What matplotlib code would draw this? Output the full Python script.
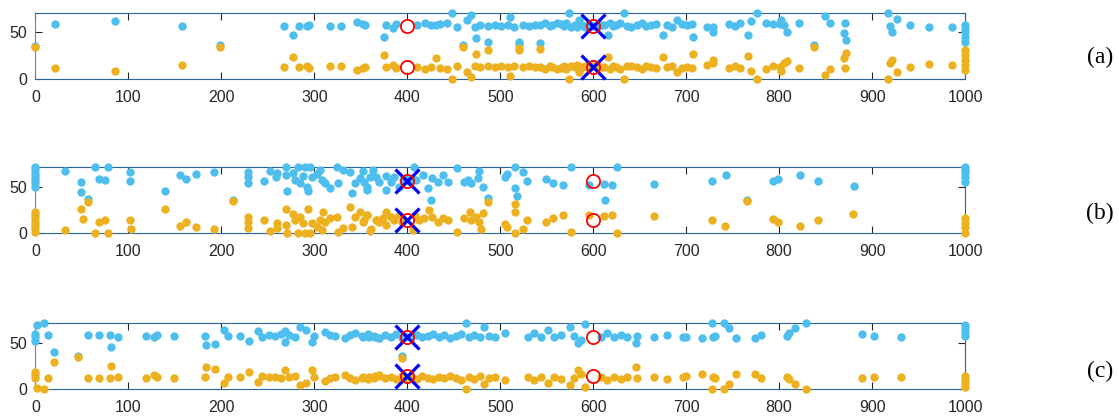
import numpy as np
import matplotlib.pyplot as plt

# ---- data ----
# panel (a): blue and orange share x
a_x = [0, 21, 85.5, 158, 199, 267, 277, 283.5, 291.7, 294.6, 316.8, 329, 346, 354,
       352, 375, 377, 385, 387.4, 410, 419, 426, 431, 435, 443, 448, 453, 460, 464, 469,
       472.5, 474, 478, 487, 487, 494, 501, 508, 511, 515, 520, 520, 524, 531, 537,
       542.5, 542.5, 548, 553, 556, 561, 565, 569, 571, 574, 576, 580, 583, 585, 588,
       591, 595, 600, 604, 608, 612, 616, 618, 621, 625, 629, 633, 636, 641, 647, 652,
       657, 662, 668, 675, 679, 685, 690, 695, 701, 706, 707, 722, 729, 729, 746, 753,
       758, 767, 770, 776, 786, 793.5, 801, 802.5, 805, 808.6, 821.5, 838, 849, 854.5,
       870.6, 870, 872.4, 917, 919.5, 921.7, 927, 941, 961, 986,
       1000, 1000, 1000, 1000, 1000]
a_blue = [35.7, 59.2, 62, 56.4, 36, 57, 47, 57, 56.4, 57.8, 56.4, 57, 60.7, 57.8,
          58.9, 45, 57.9, 55, 59, 58, 60, 58, 57.5, 59, 60, 70.4, 56, 36, 63, 68.6,
          56, 43.6, 57.9, 40, 56.8, 57.9, 56.8, 58, 66.8, 56, 40, 37, 57.9, 56.8, 58,
          38, 57.9, 59.6, 57, 57.9, 60, 58.5, 56.5, 59.6, 70.4, 56, 57.9, 55.5, 63, 58,
          56, 59, 57, 55.5, 58, 57.9, 47, 59.6, 56.5, 58, 59.6, 71, 57, 56, 57.9, 59.6,
          56.5, 57.9, 58.5, 47, 57.9, 56, 63, 59, 57.5, 59, 44.6, 56, 56, 50.7, 59, 57,
          60, 47, 62.5, 71, 60, 59, 59, 63, 58, 50.7, 60, 36, 67.5, 60.4,
          59.6, 49.6, 41.8, 71, 56.8, 50, 64.3, 57.9, 56, 56,
          58, 54, 50.7, 45, 40]
a_orange = [34.6, 11.4, 8.9, 14.6, 34.3, 13.2, 23.9, 13.2, 13.9, 12.1, 14.2, 13.5, 9.6, 12.5,
            11.5, 25.4, 12.5, 15.4, 11.4, 12.4, 10.4, 12.4, 22, 11.4, 10.4, 0, 14.4, 34.4, 8, 1.8,
            14.4, 27, 12.5, 31, 13.6, 12.5, 13.6, 12.5, 3.6, 14.4, 31, 33.4, 12.5, 13.6, 12.4,
            32.4, 12.5, 10.8, 13.4, 12.5, 10.4, 12, 14, 10.8, 0, 14.4, 12.5, 15, 7.4, 12.4,
            14.4, 11.4, 13.4, 15, 12.4, 12.5, 23.4, 10.8, 14, 12.4, 10.8, 0, 13.4, 14.4, 12.5, 10.8,
            14, 12.5, 12, 23.4, 12.5, 14.4, 7.4, 11.4, 13, 11.4, 26.8, 15, 17, 20, 11.4, 14.3,
            11.4, 24.6, 8.6, 0, 10.7, 14.3, 13.2, 8.6, 16.8, 19.6, 11.4, 34.6, 4.3, 10.4,
            11.4, 22, 28.2, 0, 16.8, 20, 7.9, 13.2, 15.7, 15,
            9.6, 15, 20, 25.7, 31]

# panel (b)
b_xblue = [0, 0, 0, 0, 0, 0, 0, 31.7, 48.6, 48.6, 56.8, 64, 68.7, 74.8, 77.6, 101.7, 101.7,
           139.3, 155.5, 161.6, 172.7, 192.4, 212.8, 229, 229, 228.3, 246, 252.3, 259.5,
           258.8, 269.5, 269.5, 271, 277.4, 279, 282.7, 284.5, 288, 290, 291.7, 293.5, 295.3,
           297, 302.5, 306, 307.8, 311.4, 316.8, 324, 325.8, 331.2, 338.4, 340, 343.7, 349,
           352.7, 356.3, 360, 353.6, 357, 362.6, 366, 370, 377, 377, 382, 386, 391, 395, 398,
           403, 405, 407.5, 409, 416.5, 422, 425, 427, 432.7, 438, 444, 454, 461.5, 465,
           468.7, 477.6, 476, 481, 486.6, 504.6, 507, 516, 516, 518, 524.4, 529, 549.6, 557,
           567.6, 576.6, 596, 611.9, 612.6, 620.5, 626, 665.3, 728, 742.4, 765, 793.5, 799.3,
           822.3, 842, 880.2, 1000, 1000, 1000, 1000, 1000]
b_blue = [72.5, 69, 65, 61.6, 58, 54.3, 50.7, 68, 56, 45, 37, 71.7, 58.7, 58, 71.7, 67, 57.2,
          46.4, 63.4, 59, 64, 67, 36.2, 67, 61.6, 54.3, 57.2, 68, 66,
          61, 71.7, 63.4, 46, 65.2, 58, 71.7, 54.3, 62.3, 71.7, 50.7, 46.4, 71.7,
          61.6, 64.5, 69, 58, 54.3, 49, 71.7, 54.3, 69, 67, 44.2, 54.3, 59.8,
          68, 47, 61.6, 56, 50.7, 68.8, 60.9, 56, 62.3, 47, 56, 61.6, 50.7, 58, 60,
          56, 59, 71.7, 58, 63.4, 49, 36, 59.8, 56, 63.4, 56, 70.7, 56, 58,
          54.3, 68, 59.8, 50.7, 38, 61.6, 64.5, 71.7, 49, 40.6, 67, 57.2, 58.7, 54.3,
          52.5, 71.7, 52.5, 53.6, 36.2, 52.5, 71.7, 53.3, 57.2, 63.4, 36.2, 56.9, 59,
          63.4, 57.2, 51.4, 72.5, 69, 65.2, 61.6, 56]
b_xorange = [0, 0, 0, 0, 0, 0, 0, 31.7, 48.6, 51.5, 56.8, 64, 68.7, 74.8, 77.6, 101.7, 102.7,
             139.3, 155.5, 161.6, 172.7, 192.4, 212.8, 229, 229, 229, 246, 252.3, 259.5, 260,
             269.5, 269.5, 271, 277.4, 279, 282.7, 284.5, 288, 290, 293.5, 295.3, 297, 302.5,
             306, 307.8, 309.6, 311.4, 316.8, 324, 325.8, 331.2, 338.4, 340, 343.7, 349, 352.7,
             356.3, 360, 367, 353.6, 357, 361, 366, 370, 373.6, 377, 377, 382, 386, 391, 394.5,
             406, 408, 413, 418.5, 423.7, 427, 432.7, 438, 444, 454, 461.5, 467, 468.7, 474,
             477.6, 479.5, 481, 486.6, 504.6, 507, 516, 516, 516, 524.4, 529, 549.6, 557, 567.6,
             576.6, 596, 611.9, 620.5, 626, 665.3, 728, 742, 765, 793.5, 799, 822, 842, 880,
             1000, 1000, 1000, 1000]
b_orange = [23.5, 19.9, 16.3, 12.7, 9, 5.4, 1.8, 3.6, 26.4, 15.6, 33.7, 0.7, 12.7, 14.5, 0.7, 14.5, 4.7,
            26, 8, 12.7, 7.2, 4.7, 35, 18, 12.7, 5.4, 14.5, 2.5, 11.6, 5.4,
            26, 9, 0.7, 21, 14.5, 0.7, 18, 11.6, 0.7, 26, 0.7, 10.9, 7.2,
            14.5, 3.6, 23.5, 12.7, 16.3, 18, 1.8, 5.4, 29, 7.2, 18, 23.5, 12.7,
            20, 3, 14.5, 14.5, 20, 4.3, 14.5, 12.7, 16.3, 23.5, 9, 18, 14.5, 20, 12.7,
            3.6, 20, 14.5, 16.3, 25.4, 18, 12.7, 16.3, 14.5, 1.8, 16.3, 23.5, 14.5, 18,
            12.7, 4.3, 21.7, 34.4, 10, 7.2, 31.9, 23.5, 0.7, 4.3, 14.5, 12.7, 16.3, 20,
            1.8, 20, 18.8, 20, 0.7, 19.2, 14.5, 8.3, 35.5, 15.2, 12.7, 8.3, 14.5, 20.6,
            16.3, 10.9, 6.5, 0.7]

# panel (c)
c_xblue = [0, 0, 0, 1.3, 9.5, 13.8, 20.3, 46, 56, 68.4, 80.3, 81, 89, 118.6, 128, 130.5, 148.5,
           182, 183, 192.7, 202.3, 207, 220.3, 229.3, 239.3, 243.8, 250.8, 258, 264.5, 268, 268,
           272.3, 279.5, 285, 291, 297, 299.3, 311, 317.2, 322.6, 333.4, 338.8, 344.2, 351.3,
           358.6, 365.7, 369.3, 352, 358, 364, 370, 376, 382, 388, 394, 394, 398, 404, 410,
           416, 422, 428, 434, 440, 446, 452, 458, 463.5, 466, 472, 478, 483, 488, 494,
           504.6, 529.6, 536.7, 543.9, 551, 558, 565, 575, 579.6, 584, 586.7, 591, 608, 615,
           622.4, 629.5, 636.7, 645.6, 647.4, 665, 679.5, 697, 699.6, 716.7, 728, 729, 731.5,
           740.8, 746, 754, 774, 780.5, 808, 810.6, 817, 829, 889, 902, 931,
           1000, 1000, 1000, 1000]
c_blue = [60.2, 56.6, 53, 70, 72, 59, 40.9, 36, 59, 59, 59, 46.4, 57.3, 58, 56.6, 59, 58,
          58, 48, 49.3, 64.6, 58, 58, 52.6, 63.9, 57.3, 59.1, 58, 60.2, 63.9, 51,
          59.1, 57.3, 67.5, 64.6, 51.8, 58, 62.8, 59.1, 58, 55.5, 59.1, 61.7, 58,
          57.3, 56.6, 55.5, 57, 60, 58, 56, 59, 57.5, 60, 36, 56, 58, 57, 59.5,
          56.5, 58, 60, 57, 59, 56, 58.5, 60.5, 72, 57, 59, 56.5, 67.5, 58, 57,
          61, 57.3, 61, 57.3, 64.6, 57.3, 59.1, 68, 58, 50, 53.6, 71, 57.3, 61,
          57.3, 59.1, 57.3, 50, 58, 57.3, 59.1, 57, 57.3, 55.5, 72, 57.3, 58,
          72, 66.4, 55.5, 55.5, 59, 58, 61, 66.4, 72, 60, 58.4, 57.3,
          70, 66.4, 62.8, 58]
c_xorange = [0, 0, 0, 1.3, 9.5, 13.8, 20.3, 46, 56, 68.4, 80.3, 81, 89, 118.6, 128, 130.5, 148.5,
             182, 183, 192.7, 202.3, 207, 220.3, 229.3, 239.3, 243.8, 250.8, 258, 264.5, 268, 272.3,
             279.5, 285, 291, 297, 299.3, 311, 317.2, 322.6, 333.4, 338.8, 344.2, 351.3, 358.6,
             365.7, 369.3, 352, 358, 364, 370, 376, 382, 388, 394, 394, 398, 404, 410, 416, 422,
             428, 434, 440, 446, 452, 458, 463.5, 466, 472, 478, 483, 488, 494, 504.6, 529.6,
             536.7, 543.9, 551, 558, 565, 575, 579.6, 584, 586.7, 591, 608, 615, 622.4, 629.5,
             636.7, 645.6, 647.4, 665, 679.5, 697, 699.6, 716.7, 728, 729, 731.5, 740.8, 746,
             754, 774, 780.5, 808, 810.6, 817, 829, 889, 902, 931, 1000, 1000, 1000, 1000]
c_orange = [19, 15.3, 11.7, 0.7, 0, 11.7, 30, 35, 11.7, 11.7, 11.7, 25.2, 13.5, 12.4, 15.3, 13.5, 12.4,
            13.5, 23.7, 21.5, 6.9, 13.5, 13.5, 19, 8, 14.2, 13.5, 12.8, 11.7, 20.8, 12.8,
            14.2, 4.4, 6.9, 20.8, 13.5, 9.1, 12.4, 13.5, 15.3, 11.7, 9.9, 12.4, 13.5,
            14.2, 15.3, 13.5, 11, 12.5, 14.5, 12, 13.5, 11, 34, 14, 12.5, 13, 11, 14, 12.5,
            10.5, 13.5, 12, 14.5, 12, 10, 0, 13.5, 11.5, 14, 5.5, 12.5, 13.5, 10, 13.5,
            10, 13.5, 7, 13.5, 11.5, 4.4, 12.5, 20.8, 16.8, 2.5, 13.5, 10, 13.5, 11.5,
            13.5, 23.7, 12.5, 13.5, 11.5, 13.5, 14.2, 16.4, 0, 13.5, 12.4, 0, 5.5,
            16.4, 16, 12.4, 13.5, 10.6, 5.5, 0, 11.7, 12.8, 13.5, 14.2, 10.6, 6.2, 1.8]

circle_x = [400, 400, 600, 600]
circle_y = [[57, 13], [57, 15], [57.3, 13.9]]
cross_x = [600, 400, 400]
cross_y = [[57, 13], [57, 15], [57.3, 13.9]]
ylims = [70.3, 72.4, 72]
labels = ['(a)', '(b)', '(c)']

blue = '#4DBEEE'
orange = '#EDB120'

plt.rcParams['font.family'] = ['Liberation Sans', 'DejaVu Sans']
fig = plt.figure(figsize=(11.19, 4.16), dpi=100)

# axes boxes in figure fractions
bottoms = [0.8101, 0.4392, 0.0649]
heights = [0.1579, 0.160, 0.1579]
label_y = [0.33, 0.30, 0.26]

panels = [(a_x, a_blue, a_x, a_orange),
          (b_xblue, b_blue, b_xorange, b_orange),
          (c_xblue, c_blue, c_xorange, c_orange)]

for i in range(3):
    ax = fig.add_axes([0.0317, bottoms[i], 0.8307, heights[i]])
    xb, yb, xo, yo = panels[i]
    ax.scatter(xb, yb, s=36, color=blue, linewidths=0, clip_on=False, zorder=3)
    ax.scatter(xo, yo, s=36, color=orange, linewidths=0, clip_on=False, zorder=3)
    ax.plot([cross_x[i]] * 2, cross_y[i], 'x', color='#0000FF', markersize=17,
            mew=2.3, zorder=4, clip_on=False)
    ax.plot(circle_x, circle_y[i] * 2, 'o', mfc='none', mec='#FF0000',
            markersize=9.5, mew=1.3, zorder=5, clip_on=False)
    ax.set_xlim(0, 1000)
    ax.set_ylim(0, ylims[i])
    ax.set_xticks(np.arange(0, 1001, 100))
    ax.set_yticks([0, 50])
    ax.tick_params(direction='in', top=True, right=True, labelsize=11.5,
                   length=5, width=0.8, colors='#262626')
    ax.tick_params(axis='x', pad=8)
    ax.tick_params(axis='y', pad=6)
    for s in ['top', 'bottom', 'right']:
        ax.spines[s].set_color('#2a64a0')
    ax.spines['left'].set_color('#808080')
    ax.text(1.0 + 135 / 930, label_y[i], labels[i], transform=ax.transAxes,
            family='Liberation Serif', fontsize=17, ha='center', va='center')

plt.savefig('out.png', dpi=100)
